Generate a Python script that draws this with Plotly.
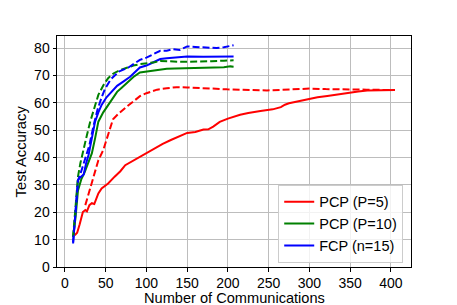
import plotly.graph_objects as go

# PCP (P=5)
x_pcp5 = [12, 15, 18, 22, 25, 27, 30, 33, 36, 41, 45, 53, 61, 68, 74, 80, 88, 95, 100, 110, 120, 130, 140, 150, 160, 170, 176, 182, 190, 200, 215, 225, 240, 255, 265, 270, 275, 285, 301, 310, 322, 335, 347, 360, 371, 385, 395, 405]
y_pcp5 = [11.6, 12.5, 15.5, 20.1, 20.8, 20.3, 22.6, 23.3, 23.0, 26.9, 28.7, 30.5, 33.0, 35.0, 37.2, 38.2, 39.8, 41.0, 41.8, 43.3, 45.0, 46.4, 47.7, 49.0, 49.3, 50.2, 50.3, 51.3, 53.0, 54.2, 55.6, 56.3, 57.0, 57.6, 58.4, 59.3, 59.8, 60.5, 61.5, 62.0, 62.5, 63.1, 63.7, 64.1, 64.5, 64.6, 64.7, 64.7]
x_pcp5d = [25, 29, 33, 37, 41, 47, 51, 55, 59, 65, 72, 76, 84, 92, 100, 113, 125, 137, 150, 166, 180, 199, 215, 230, 248, 265, 280, 301, 320, 347, 370, 390, 405]
y_pcp5d = [22.6, 26.9, 31.0, 35.4, 39.0, 42.7, 46.4, 50.5, 54.0, 55.8, 57.4, 58.6, 60.5, 62.4, 63.5, 64.8, 65.3, 65.7, 65.6, 65.5, 65.2, 64.9, 64.7, 64.6, 64.5, 64.7, 65.0, 65.2, 65.0, 65.0, 64.8, 64.7, 64.7]

# PCP (P=10)
x_pcp10 = [10, 13, 16, 20, 24, 28, 33, 37, 41, 47, 53, 59, 64, 70, 77, 84, 92, 100, 110, 117, 125, 135, 150, 166, 180, 195, 203, 207]
y_pcp10 = [11.0, 18.0, 28.0, 32.0, 34.5, 37.5, 41.5, 47.0, 53.1, 56.5, 59.2, 62.0, 64.0, 65.6, 67.5, 69.4, 71.1, 71.4, 72.0, 72.3, 72.4, 72.5, 72.6, 72.7, 72.8, 73.0, 73.3, 73.2]
x_pcp10d = [10, 13, 16, 19, 22, 26, 31, 36, 41, 47, 53, 60, 68, 76, 84, 92, 100, 110, 117, 125, 140, 150, 166, 180, 195, 203, 207]
y_pcp10d = [11.0, 22.0, 33.0, 38.0, 41.5, 47.0, 53.1, 58.5, 62.9, 66.3, 69.0, 70.8, 72.0, 72.8, 73.6, 74.1, 74.3, 74.8, 75.3, 75.1, 75.0, 75.0, 75.0, 75.2, 75.4, 75.6, 75.5]

# FCP (n=15)
x_fcp = [10, 13, 16, 18, 20, 23, 26, 29, 33, 37, 41, 45, 51, 57, 64, 72, 80, 92, 100, 110, 117, 125, 135, 150, 170, 190, 203, 207]
y_fcp = [8.6, 20.0, 31.8, 32.5, 33.0, 33.8, 37.9, 40.9, 47.0, 53.1, 56.5, 59.2, 62.0, 64.1, 66.2, 67.8, 69.5, 72.9, 73.6, 75.0, 76.0, 76.3, 76.6, 76.9, 76.8, 76.8, 76.9, 76.9]
x_fcpd = [10, 13, 16, 19, 22, 26, 30, 35, 40, 45, 49, 56, 66, 78, 92, 100, 113, 117, 125, 133, 141, 150, 160, 174, 186, 195, 203, 207]
y_fcpd = [9.0, 21.0, 31.5, 34.0, 37.0, 41.0, 44.5, 51.5, 57.5, 62.0, 65.0, 68.5, 71.4, 72.9, 75.7, 76.5, 78.2, 79.0, 79.0, 79.6, 79.3, 80.6, 80.4, 80.3, 80.0, 80.3, 80.8, 81.0]

names = ["PCP (P=5)", "PCP (P=10)", "FCP (n=15)"]
colors = ["#ff0000", "#008000", "#0000ff"]
x_title = "Number of Communications"
y_title = "Test Accuracy"

fig = go.Figure()
series = [(x_pcp5, y_pcp5, x_pcp5d, y_pcp5d), (x_pcp10, y_pcp10, x_pcp10d, y_pcp10d), (x_fcp, y_fcp, x_fcpd, y_fcpd)]
for (xs, ys, xd, yd), n, c in zip(series, names, colors):
    fig.add_trace(go.Scatter(x=xs, y=ys, mode="lines", name=n, line=dict(color=c, width=2)))
for (xs, ys, xd, yd), n, c in zip(series, names, colors):
    fig.add_trace(go.Scatter(x=xd, y=yd, mode="lines", name=n + " dashed", showlegend=False,
                             line=dict(color=c, width=2, dash="7px,3px")))

axis_common = dict(showline=True, linecolor="black", linewidth=1, mirror=True,
                   ticks="outside", ticklen=3.5, tickcolor="black", tickwidth=1,
                   showgrid=True, gridcolor="#bdbdbd", gridwidth=1, zeroline=False,
                   automargin=False,
                   tickfont=dict(size=14, color="black"))

fig.update_layout(
    width=457, height=305,
    margin=dict(l=57, r=46, t=36, b=38),
    paper_bgcolor="white", plot_bgcolor="white",
    font=dict(family="Liberation Sans, Arial, sans-serif", size=14, color="black"),
    xaxis=dict(range=[-9.75, 424.75], tickmode="array", tickvals=[0, 50, 100, 150, 200, 250, 300, 350, 400],
               **axis_common),
    yaxis=dict(range=[0, 84.4], tickmode="array", tickvals=[0, 10, 20, 30, 40, 50, 60, 70, 80],
               **axis_common),
    legend=dict(x=0.978, y=0.018, xanchor="right", yanchor="bottom",
                bgcolor="rgba(255,255,255,0.8)", bordercolor="#cccccc", borderwidth=1,
                font=dict(size=14.5), itemwidth=30, tracegroupgap=0),
    showlegend=True,
    annotations=[
        dict(text=x_title, xref="paper", yref="paper", x=0.5, y=-0.134, xanchor="center", yanchor="middle",
             showarrow=False, font=dict(size=14.6)),
        dict(text=y_title, xref="paper", yref="paper", x=-0.1017, y=0.5, xanchor="center", yanchor="middle",
             textangle=-90, showarrow=False, font=dict(size=14.8)),
    ],
)

fig.write_html("out.html", config={"displayModeBar": False},
               post_script="document.body.style.margin='0px';document.body.style.overflow='hidden';")
